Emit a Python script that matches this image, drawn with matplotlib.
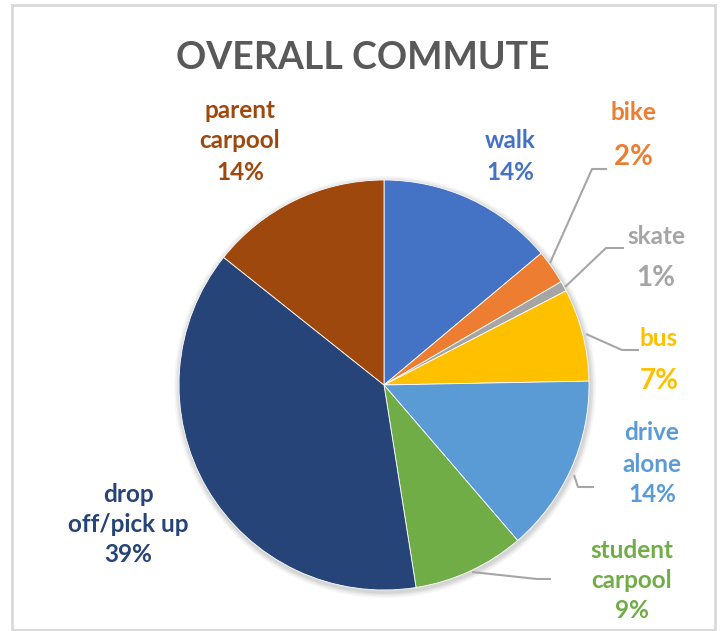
import matplotlib
matplotlib.use("Agg")
import matplotlib.pyplot as plt
from matplotlib.patches import Rectangle, Circle

# ---- data ----
categories = ["walk", "bike", "skate", "bus", "drive alone", "student carpool",
              "drop off/pick up", "parent carpool"]
values = [13.9, 2.7, 0.8, 7.3, 14.0, 8.8, 38.2, 14.3]
pct_labels = ["14%", "2%", "1%", "7%", "14%", "9%", "39%", "14%"]
label_lines = [["walk"], ["bike"], ["skate"], ["bus"], ["drive", "alone"],
               ["student", "carpool"], ["drop", "off/pick up"], ["parent", "carpool"]]
colors = ["#4472C4", "#ED7D31", "#A5A5A5", "#FFC000", "#5B9BD5", "#70AD47",
          "#264478", "#9E480E"]
title = "OVERALL COMMUTE"

W, H = 724, 631
fig = plt.figure(figsize=(W / 100, H / 100), dpi=100)
ax = fig.add_axes([0, 0, 1, 1])

def Y(y):
    return H - y

cx, cy, r = 384, 385, 205
# soft shadow
for i, a in enumerate([0.05, 0.05, 0.04, 0.03]):
    ax.add_patch(Circle((cx + 1, Y(cy) - 2), r + 1.5 + i * 1.5, color="#000000",
                        alpha=a, lw=0, zorder=1))

ax.pie(values, colors=colors, startangle=90, counterclock=False,
       center=(cx, Y(cy)), radius=r, frame=True,
       wedgeprops=dict(edgecolor="white", linewidth=0.6, zorder=2))
ax.set_xlim(0, W)
ax.set_ylim(0, H)
ax.set_aspect("equal")
ax.axis("off")

# chart frame
ax.add_patch(Rectangle((12, Y(630)), 703, 625, fill=False, ec="#D9D9D9", lw=2))

# title
ax.text(363, Y(58), title, ha="center", va="center", fontsize=27,
        fontweight="bold", color="#595959", family="Lato")

# leader lines
leaders = {
    "bike": [(550, 263), (592, 169), (607, 169)],
    "skate": [(565, 287), (606, 248), (624, 248)],
    "bus": [(586, 334), (622, 350), (639, 350)],
    "drive alone": [(574, 475), (578, 487), (594, 487)],
    "student carpool": [(472, 572), (537, 579), (551, 579)],
}
for pts in leaders.values():
    ax.plot([p[0] for p in pts], [Y(p[1]) for p in pts], color="#A6A6A6",
            lw=1.5, zorder=3, solid_capstyle="butt")

# label positions: (x, y of first line, line spacing)
label_pos = [
    (510, 141, 32),
    (633, 113, 44),
    (656, 236, 42),
    (659, 339, 42),
    (652, 433, 31),
    (632, 550, 30),
    (128, 495, 30),
    (240, 110, 31),
]
for lines, pct, col, (x, y, dy) in zip(label_lines, pct_labels, colors, label_pos):
    big = len(lines) == 1 and pct in ("2%", "1%", "7%")
    for k, t in enumerate(lines + [pct]):
        fs = 17.5
        if k == len(lines) and big:
            fs = 20
        ax.text(x, Y(y + k * dy), t, ha="center", va="center", fontsize=fs,
                fontweight="bold", color=col, family="Lato", zorder=4)

fig.savefig("out.png", dpi=100)
